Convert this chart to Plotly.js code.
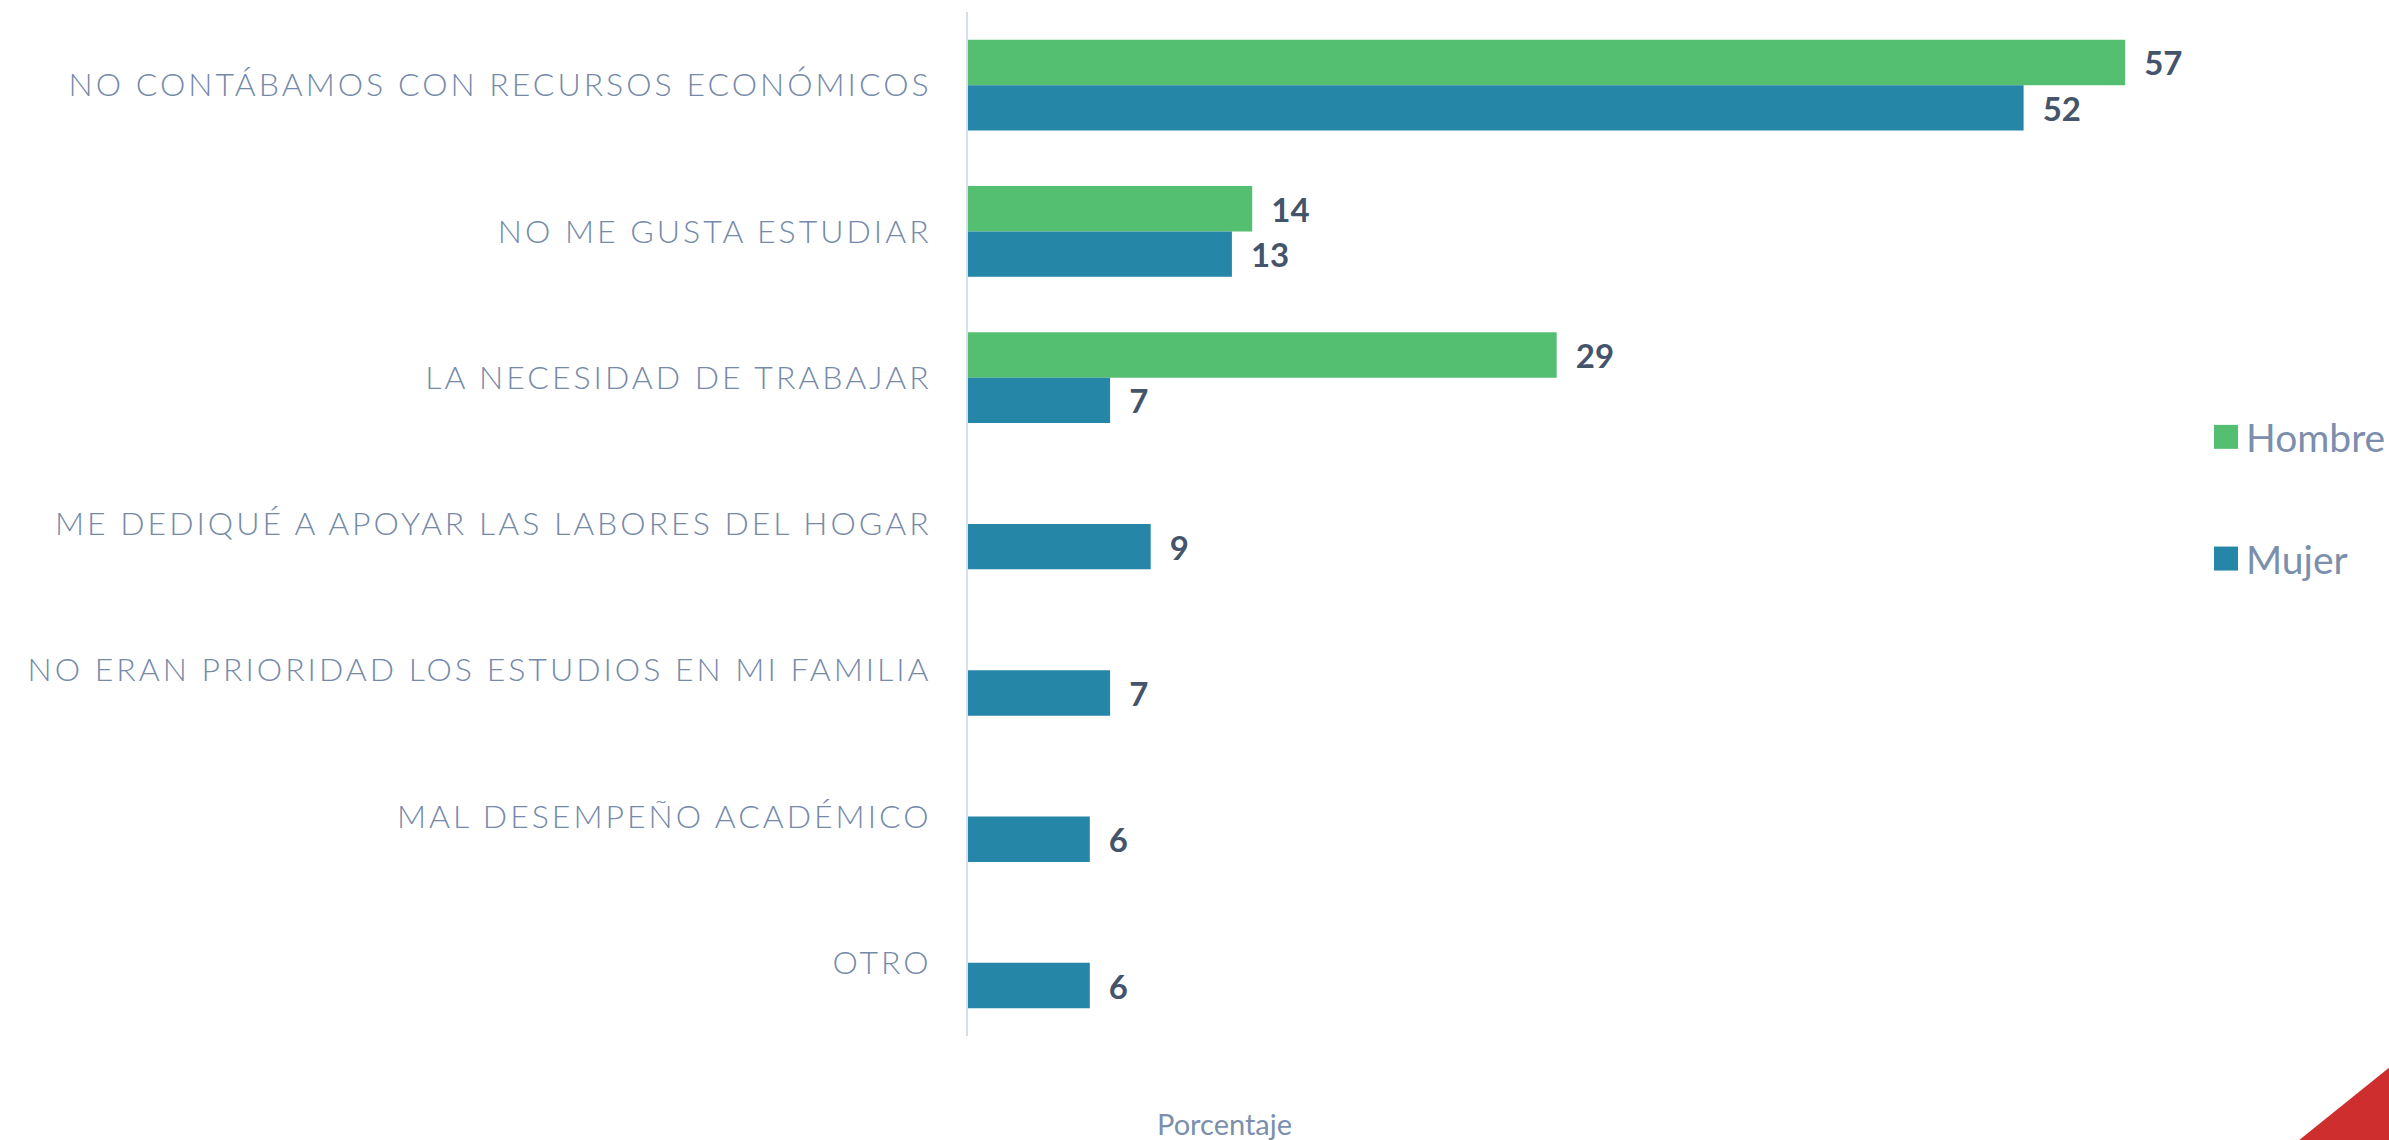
<!DOCTYPE html>
<html>
<head>
<meta charset="utf-8">
<script src="https://cdn.plot.ly/plotly-3.0.1.min.js"></script>
<style>
  html, body { margin: 0; padding: 0; background: #ffffff; }
  #chart { width: 2389px; height: 1140px; }
  .ytick text { letter-spacing: 3px; }
  .legend .legendpoints path { transform: translate(20px, 0px) scale(2); }
</style>
</head>
<body>
<div id="chart"></div>
<script>
const categories = [
  "NO CONTÁBAMOS CON RECURSOS ECONÓMICOS",
  "NO ME GUSTA ESTUDIAR",
  "LA NECESIDAD DE TRABAJAR",
  "ME DEDIQUÉ A APOYAR LAS LABORES DEL HOGAR",
  "NO ERAN PRIORIDAD LOS ESTUDIOS EN MI FAMILIA",
  "MAL DESEMPEÑO ACADÉMICO",
  "OTRO"
];
const hombre = [57, 14, 29, null, null, null, null];
const mujer = [52, 13, 7, 9, 7, 6, 6];
const seriesNames = ["Hombre", "Mujer"];
const axisTitle = "Porcentaje";

const W = 2389, H = 1140;
const margin = {l: 968, r: 203, t: 12, b: 104};
const plotW = W - margin.l - margin.r;
const plotH = H - margin.t - margin.b;
const px = (x) => (x - margin.l) / plotW;
const py = (y) => (H - margin.b - y) / plotH;

const labelFont = {family: "Lato, 'Noto Sans', sans-serif", size: 33, color: "#44546A", weight: 700};

function barTrace(name, vals, color) {
  return {
    type: "bar",
    orientation: "h",
    name: name,
    legendgroup: name,
    y: categories,
    x: vals,
    marker: {color: color},
    texttemplate: "\u00a0\u00a0%{x}",
    textposition: "outside",
    textfont: labelFont,
    constraintext: "none",
    cliponaxis: false,
    hoverinfo: "skip"
  };
}

const data = [
  barTrace(seriesNames[0], hombre, "#54BF71"),
  barTrace(seriesNames[1], mujer, "#2586A7")
];

const layout = {
  width: W,
  height: H,
  margin: Object.assign({autoexpand: false}, margin),
  paper_bgcolor: "#ffffff",
  plot_bgcolor: "#ffffff",
  barmode: "group",
  bargap: 0.38,
  bargroupgap: 0,
  showlegend: true,
  legend: {
    x: px(2206),
    xanchor: "left",
    y: py(498),
    yanchor: "middle",
    orientation: "v",
    tracegroupgap: 68,
    font: {family: "Lato, 'Noto Sans', sans-serif", size: 39, color: "#7B8FAD"},
    bgcolor: "rgba(0,0,0,0)"
  },
  xaxis: {
    range: [0, 60],
    showgrid: false,
    zeroline: false,
    showline: false,
    showticklabels: false,
    ticks: "",
    fixedrange: true
  },
  yaxis: {
    type: "category",
    autorange: "reversed",
    showgrid: false,
    zeroline: false,
    showline: true,
    linecolor: "#D9DFE8",
    linewidth: 2,
    ticks: "",
    ticklabelstandoff: 28,
    tickfont: {family: "Lato, 'Noto Sans', sans-serif", size: 32, color: "#7589A9", weight: 300},
    fixedrange: true
  },
  annotations: [{
    text: axisTitle,
    xref: "paper", yref: "paper",
    x: px(1224), y: py(1123),
    xanchor: "center", yanchor: "middle",
    showarrow: false,
    font: {family: "Lato, 'Noto Sans', sans-serif", size: 29, color: "#7B8FAD"}
  }],
  shapes: [{
    type: "path",
    xref: "paper", yref: "paper",
    path: "M " + px(2298) + " " + py(1141) + " L " + px(2390) + " " + py(1067) + " L " + px(2390) + " " + py(1141) + " Z",
    fillcolor: "#CF2E2E",
    line: {width: 0},
    layer: "above"
  }]
};

Plotly.newPlot("chart", data, layout, {displayModeBar: false, staticPlot: true});
</script>
</body>
</html>
